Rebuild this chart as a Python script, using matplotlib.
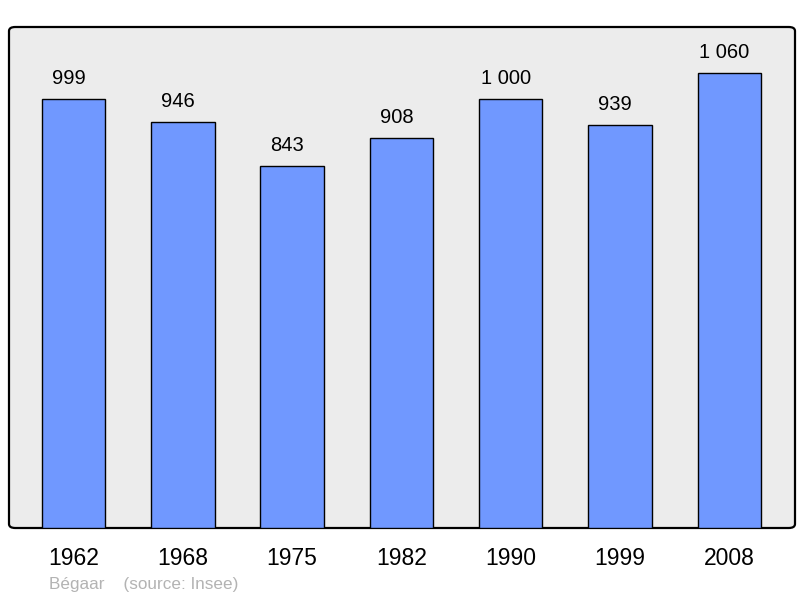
import matplotlib.pyplot as plt
from matplotlib.patches import FancyBboxPatch

years = ["1962", "1968", "1975", "1982", "1990", "1999", "2008"]
population = [999, 946, 843, 908, 1000, 939, 1060]
value_labels = ["999", "946", "843", "908", "1 000", "939", "1 060"]

plt.rcParams['font.family'] = ['Liberation Sans', 'DejaVu Sans']

fig = plt.figure(figsize=(8, 5.98), dpi=100)
ax = fig.add_axes([9 / 800, 70 / 598, 786 / 800, 501 / 598])
ax.set_facecolor('none')

# rounded grey frame behind the bars
frame = FancyBboxPatch((0, 0), 1, 1, boxstyle="round,pad=0,rounding_size=0.008",
                       transform=ax.transAxes, facecolor='#ececec',
                       edgecolor='black', linewidth=1.6, zorder=0, clip_on=False)
ax.add_patch(frame)

x = list(range(len(years)))
ax.bar(x, population, width=0.58, color='#7098ff', edgecolor='black',
       linewidth=1.0, zorder=2)

for xi, v, lab in zip(x, population, value_labels):
    ax.annotate(lab, (xi, v), xytext=(-3.5, 8), textcoords='offset points',
                ha='center', va='bottom', fontsize=14.5)

ax.set_xlim(-0.59, 6.6)
ax.set_ylim(0, 1167)
ax.set_xticks(x)
ax.set_xticklabels(years, fontsize=16.5)
ax.tick_params(axis='x', length=0, pad=13.5)
ax.set_yticks([])
for s in ax.spines.values():
    s.set_visible(False)

fig.text(49 / 800, 1 - 585 / 598, "Bégaar    (source: Insee)", color='#b3b3b3',
         fontsize=12.3, ha='left', va='center')

fig.savefig("out.png", dpi=100)
